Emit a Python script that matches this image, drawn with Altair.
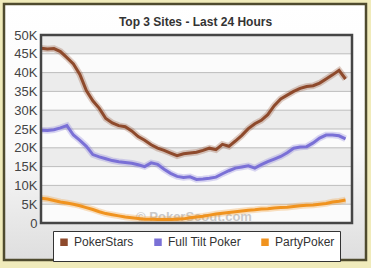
import altair as alt
import pandas as pd

# ---- data ----
hours = [i * 0.5 for i in range(48)]
poker_stars = [46.5, 46.3, 46.4, 45.6, 44.0, 42.3, 39.5, 35.2, 32.5, 30.5,
               27.8, 26.6, 25.9, 25.6, 24.5, 23.0, 22.0, 20.8, 19.9, 19.3,
               18.6, 17.9, 18.4, 18.6, 18.8, 19.3, 19.9, 19.5, 20.9, 20.4,
               21.8, 23.3, 25.1, 26.4, 27.3, 28.8, 31.2, 33.0, 34.0, 35.0,
               35.8, 36.3, 36.5, 37.2, 38.3, 39.4, 40.6, 38.3]
full_tilt = [24.7, 24.6, 24.8, 25.3, 25.9, 23.4, 22.0, 20.4, 18.2, 17.6,
             17.1, 16.6, 16.3, 16.1, 15.9, 15.5, 15.0, 16.0, 15.6, 14.3,
             13.2, 12.4, 12.1, 12.3, 11.6, 11.7, 11.9, 12.2, 13.1, 13.9,
             14.6, 14.9, 15.2, 14.6, 15.5, 16.3, 17.0, 17.7, 18.7, 19.9,
             20.2, 20.3, 21.3, 22.6, 23.4, 23.4, 23.2, 22.4]
party_poker = [6.6, 6.4, 6.0, 5.6, 5.3, 5.0, 4.6, 4.1, 3.6, 3.0,
               2.5, 2.2, 1.9, 1.6, 1.4, 1.2, 1.0, 1.0, 0.9, 0.9,
               0.9, 1.0, 1.1, 1.4, 1.6, 1.8, 2.1, 2.4, 2.6, 2.8,
               3.0, 3.2, 3.4, 3.5, 3.7, 3.8, 4.0, 4.1, 4.2, 4.4,
               4.6, 4.7, 4.8, 5.0, 5.2, 5.6, 5.8, 6.1]
sites = ["PokerStars", "Full Tilt Poker", "PartyPoker"]
colors = ["#8E4A2C", "#7A70D6", "#F0931F"]
y_ticks = [0, 5000, 10000, 15000, 20000, 25000, 30000, 35000, 40000, 45000, 50000]
band_starts = [5000, 15000, 25000, 35000, 45000]
title_text = "Top 3 Sites - Last 24 Hours"
watermark_text = "© PokerScout.com"

rows = []
for name, vals in zip(sites, [poker_stars, full_tilt, party_poker]):
    for h, v in zip(hours, vals):
        rows.append({"hour": h, "players": v * 1000, "site": name})
df = pd.DataFrame(rows)

W, H = 311, 188
FONT = "Liberation Sans"
one = pd.DataFrame({"a": [0]})

x_enc = alt.X("hour:Q", scale=alt.Scale(domain=[0, 24], nice=False), axis=None)
y_scale = alt.Scale(domain=[0, 50000], nice=False)
y_axis = alt.Axis(values=y_ticks, title=None, grid=False, ticks=False,
                  domain=False, labelFont=FONT, labelFontSize=13,
                  labelColor="#444444", labelPadding=4, zindex=1,
                  labelExpr="datum.value == 0 ? '0' : (datum.value / 1000) + 'K'")
color_scale = alt.Scale(domain=sites, range=colors)
legend = alt.Legend(
    title=None, orient="none", legendX=12, legendY=196,
    direction="horizontal", fillColor="#ffffff", strokeColor="#333333",
    padding=5, columnPadding=10, symbolType="square", symbolSize=1,
    symbolStrokeWidth=6.5, symbolOpacity=1, labelFontSize=12,
    labelOffset=4, labelFont=FONT, labelColor="#333333", zindex=2,
)

panel = alt.Chart(one).mark_rect(
    fill=alt.Gradient(
        gradient="linear", x1=0, x2=0, y1=0, y2=1,
        stops=[alt.GradientStop(color="#ffffff", offset=0),
               alt.GradientStop(color="#fafafa", offset=0.55),
               alt.GradientStop(color="#dedede", offset=1)],
    ),
    stroke="#4F4B2E", strokeWidth=2.5,
).encode(x=alt.value(-37), x2=alt.value(325), y=alt.value(-31), y2=alt.value(225))

title = alt.Chart(one).mark_text(
    text=title_text, font=FONT, fontSize=12,
    fontWeight="bold", color="#333333", baseline="alphabetic", align="center",
).encode(x=alt.value(154.5), y=alt.value(-9.3))

plot_bg = alt.Chart(one).mark_rect(fill="#fbfbfb").encode(
    x=alt.value(0), x2=alt.value(W), y=alt.value(0), y2=alt.value(H))

bands = alt.Chart(pd.DataFrame({"b": band_starts})).transform_calculate(
    b2="datum.b + 5000").mark_rect(fill="#ececec").encode(
    x=alt.value(0), x2=alt.value(W),
    y=alt.Y("b:Q", scale=y_scale, axis=y_axis), y2="b2:Q")

grid = alt.Chart(pd.DataFrame({"t": y_ticks})).mark_rule(
    color="#bdbdbd", strokeWidth=1).encode(
    y=alt.Y("t:Q", scale=y_scale, axis=y_axis),
    x=alt.value(0), x2=alt.value(W))

watermark = alt.Chart(one).mark_text(
    text=watermark_text, font=FONT, fontSize=13, fontWeight="bold",
    color="#c9c9c9").encode(x=alt.value(153), y=alt.value(182))

halo = alt.Chart(df).mark_line(strokeWidth=6.5, opacity=0.28).encode(
    x=x_enc, y=alt.Y("players:Q", scale=y_scale, axis=y_axis),
    color=alt.Color("site:N", scale=color_scale, legend=legend),
    detail="site:N")

lines = alt.Chart(df).mark_line(strokeWidth=3).encode(
    x=x_enc, y=alt.Y("players:Q", scale=y_scale, axis=y_axis),
    color=alt.Color("site:N", scale=color_scale, legend=legend))

legend_shadow = alt.Chart(one).mark_rect(fill="#888888", opacity=0.5).encode(
    x=alt.value(14), x2=alt.value(300), y=alt.value(198), y2=alt.value(220))

frame = alt.Chart(one).mark_rect(
    fill=None, stroke="#454545", strokeWidth=2.5).encode(
    x=alt.value(0), x2=alt.value(W), y=alt.value(0), y2=alt.value(H))

chart = alt.layer(
    panel, title, plot_bg, bands, grid, watermark, halo, lines, legend_shadow, frame
).properties(
    width=W, height=H,
    autosize=alt.AutoSizeParams(type="none"),
    padding={"left": 41, "top": 35, "right": 19, "bottom": 45},
    background="#F0EBBB",
).configure_view(stroke=None, fill=None).configure_axis(zindex=1)

chart.save("out.html", embed_options={"renderer": "svg", "actions": False})
